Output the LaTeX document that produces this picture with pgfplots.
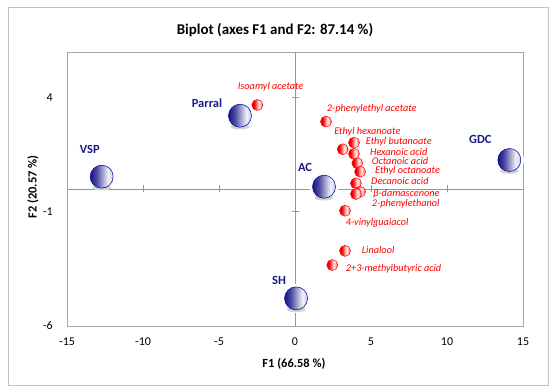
\documentclass[border=0pt]{standalone}
\usepackage{pgfplots}
\pgfplotsset{compat=1.18}
\usepackage{fontspec}
\setmainfont{Carlito}
\definecolor{navyl}{RGB}{25,25,135}
\definecolor{framegray}{RGB}{166,166,166}
\definecolor{outergray}{RGB}{195,195,195}
\definecolor{axgray}{RGB}{150,150,150}
\pgfdeclarehorizontalshading{bluegrad}{100bp}{color(0bp)=(navyl!90!black); color(25bp)=(navyl!90!black); color(38bp)=(navyl!80!white); color(64bp)=(navyl!6!white); color(75bp)=(navyl!22!white); color(100bp)=(navyl!22!white)}
\pgfdeclarehorizontalshading{redgrad}{100bp}{color(0bp)=(red!85!black); color(25bp)=(red!85!black); color(36bp)=(red); color(57bp)=(red!8!white); color(67bp)=(red!35!white); color(75bp)=(red); color(100bp)=(red)}
\pgfdeclareplotmark{bsphere}{%
  \begin{pgfscope}%
    \pgfpathcircle{\pgfpointorigin}{\pgfplotmarksize+3pt}%
    \pgfsetfillcolor{white}%
    \pgfusepath{fill}%
  \end{pgfscope}%
  \begin{pgfscope}%
    \pgfpathellipse{\pgfpoint{0pt}{-0.95\pgfplotmarksize}}{\pgfpoint{0.8\pgfplotmarksize}{0pt}}{\pgfpoint{0pt}{0.25\pgfplotmarksize}}%
    \pgfsetfillcolor{black!18}%
    \pgfusepath{fill}%
  \end{pgfscope}%
  \pgfpathcircle{\pgfpointorigin}{\pgfplotmarksize}%
  \pgfshadepath{bluegrad}{0}%
  \pgfusepath{stroke}%
}
\pgfdeclareplotmark{rsphere}{%
  \pgfpathcircle{\pgfpointorigin}{\pgfplotmarksize}%
  \pgfshadepath{redgrad}{0}%
  \pgfusepath{stroke}%
}
\begin{document}
\begin{tikzpicture}
\useasboundingbox (-67bp,-62bp) rectangle (483bp,326bp);
\draw[outergray, line width=0.8bp] (-59bp,-59bp) rectangle (481bp,319bp);
\begin{axis}[
  at={(0,0)}, anchor=south west,
  scale only axis, width=456bp, height=274bp,
  xmin=-15, xmax=15, ymin=-6, ymax=6,
  xtick={-15,-10,-5,0,5,10,15}, xticklabels={-15,-10,-5,0,5,10,15},
  ytick={-6,-1,4}, yticklabels={-6,-1,4},
  major tick length=0pt,
  axis line style={framegray, line width=0.8bp},
  tick label style={font=\fontsize{12}{14}\selectfont, text=black},
  xticklabel style={anchor=center, yshift=-16bp, inner sep=0pt},
  yticklabel style={anchor=east, xshift=-14bp, inner sep=0pt},
  clip=false,
]
\addplot[axgray, line width=0.8bp] coordinates {(-15,0) (15,0)};
\addplot[axgray, line width=0.8bp] coordinates {(0,-6) (0,6)};
\addplot[only marks, mark=|, mark size=3.5bp, axgray, mark options={line width=0.8bp}] coordinates {(-10,0) (-5,0) (5,0) (10,0)};
\addplot[only marks, mark=-, mark size=3.5bp, axgray, mark options={line width=0.8bp}] coordinates {(0,4) (0,-1)};
% observations
\addplot[only marks, mark=bsphere, mark size=11.5bp, mark options={draw=navyl!70!blue, line width=0.6bp}] table {
x y
-12.72 0.54
-3.62 3.21
1.91 0.10
0.07 -4.79
14.10 1.27
};
% variables
\addplot[only marks, mark=rsphere, mark size=5.5bp, mark options={draw=red, line width=0.5bp}] table {
x y
-2.48 3.68
2.04 2.95
3.14 1.74
3.88 2.03
3.88 1.54
4.10 1.13
4.28 0.76
4.01 0.25
4.28 -0.12
4.01 -0.22
3.29 -0.95
3.29 -2.71
2.45 -3.33
};
\begin{scope}[every node/.style={font=\fontsize{12.5}{14}\selectfont\bfseries, text=navyl, inner sep=0pt}]
\node at (axis cs:-13.5,1.75) {VSP};
\node at (axis cs:-5.79,3.75) {Parral};
\node at (axis cs:0.66,0.95) {AC};
\node at (axis cs:-1.05,-3.99) {SH};
\node at (axis cs:12.19,2.19) {GDC};
\end{scope}
\begin{scope}[every node/.style={font=\fontsize{10.3}{12}\selectfont\itshape, text=red, inner sep=0pt, anchor=west}]
\node at (axis cs:-3.77,4.46) {Isoamyl acetate};
\node at (axis cs:2.09,3.51) {2-phenylethyl acetate};
\node at (axis cs:2.57,2.51) {Ethyl hexanoate};
\node at (axis cs:4.65,2.06) {Ethyl butanoate};
\node at (axis cs:4.93,1.64) {Hexanoic acid};
\node at (axis cs:5.05,1.21) {Octanoic acid};
\node at (axis cs:5.26,0.79) {Ethyl octanoate};
\node at (axis cs:5.00,0.36) {Decanoic acid};
\node at (axis cs:5.13,-0.19) {β-damascenone};
\node at (axis cs:5.05,-0.64) {2-phenylethanol};
\node at (axis cs:3.34,-1.50) {4-vinylguaiacol};
\node at (axis cs:4.39,-2.68) {Linalool};
\node at (axis cs:3.34,-3.48) {2+3-methylbutyric acid};
\end{scope}
\end{axis}
\node[font=\fontsize{15}{18}\selectfont\bfseries] at (208bp,296bp) {Biplot (axes F1 and F2: 87.14 \%)};
\node[font=\fontsize{12.5}{15}\selectfont\bfseries] at (227bp,-38bp) {F1 (66.58 \%)};
\node[font=\fontsize{12.5}{15}\selectfont\bfseries, rotate=90] at (-34bp,139bp) {F2 (20.57 \%)};
\end{tikzpicture}
\end{document}
